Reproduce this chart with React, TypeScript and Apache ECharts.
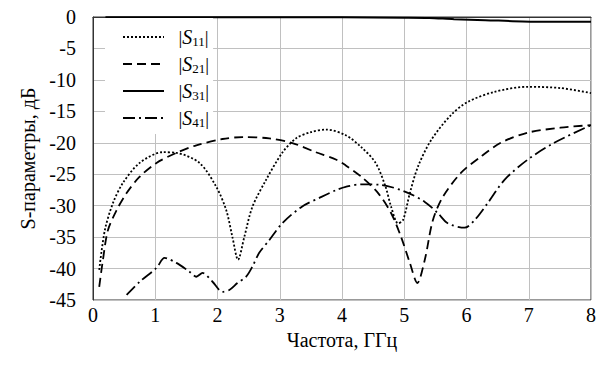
import React, { useEffect, useRef } from "react";
import * as echarts from "echarts";

const xTicks = [0, 1, 2, 3, 4, 5, 6, 7, 8];
const yTicks = [0, -5, -10, -15, -20, -25, -30, -35, -40, -45];

const s11Freq = [0.1, 0.19, 0.32, 0.48, 0.75, 1.12, 1.34, 1.71, 1.98, 2.14, 2.24, 2.33, 2.43, 2.56, 2.78, 3.04, 3.26, 3.5, 3.75, 4.06, 4.31, 4.54, 4.7, 4.79, 4.9, 4.98, 5.09, 5.22, 5.43, 5.75, 6.02, 6.45, 6.98, 7.51, 8.0];
const s11Db = [-40.2, -33.9, -29.6, -26.4, -23.2, -21.5, -21.6, -23.2, -27, -30.7, -35, -38.6, -35, -30.2, -25.9, -21.6, -19.3, -18.3, -17.9, -18.8, -20.7, -23.2, -27, -30.2, -32.8, -32.3, -28, -23.8, -19.6, -15.6, -13.5, -11.9, -11.1, -11.3, -12.1];

const s21Freq = [0.1, 0.16, 0.24, 0.38, 0.54, 0.75, 1.02, 1.34, 1.66, 2.08, 2.4, 2.83, 3.19, 3.58, 3.91, 4.06, 4.31, 4.58, 4.79, 4.95, 5.09, 5.21, 5.33, 5.46, 5.62, 5.91, 6.23, 6.55, 6.98, 7.51, 8.0];
const s21Db = [-42.9, -38.6, -33.9, -30.7, -28, -25.4, -23.2, -21.6, -20.4, -19.4, -19.1, -19.3, -20, -21.5, -22.7, -23.6, -25.4, -28, -31.2, -35, -39.1, -42.3, -38.6, -32.3, -28.6, -24.8, -22.2, -20, -18.4, -17.6, -17.2];

const s31Freq = [0.2, 1, 2, 3, 4, 5, 5.4, 5.8, 6.3, 6.9, 7.5, 8.0];
const s31Db = [-0.05, -0.05, -0.05, -0.05, -0.05, -0.1, -0.15, -0.35, -0.5, -0.7, -0.75, -0.75];

const s41Freq = [0.54, 0.75, 1.02, 1.15, 1.34, 1.55, 1.66, 1.76, 1.92, 2.08, 2.19, 2.32, 2.46, 2.56, 2.67, 2.83, 3.04, 3.35, 3.67, 3.91, 4.06, 4.31, 4.63, 5.02, 5.33, 5.54, 5.7, 5.97, 6.13, 6.34, 6.61, 6.98, 7.41, 8.0];
const s41Db = [-44.2, -42.1, -39.9, -38.3, -39.1, -40.5, -41.3, -40.7, -42.1, -43.7, -43.4, -42.3, -41.3, -39.7, -37.5, -35.5, -32.8, -30.2, -28.6, -27.5, -27, -26.6, -26.7, -27.8, -29.4, -31.2, -32.8, -33.5, -32.3, -29.6, -25.9, -22.7, -20, -17.2];

const seriesNames = ["S11", "S21", "S31", "S41"];

const pairs = (xs: number[], ys: number[]) => xs.map((x, i) => [x, ys[i]]);

const FONT = "serif";

export default function App() {
  const ref = useRef<HTMLDivElement>(null);
  useEffect(() => {
    if (!ref.current) return;
    const chart = echarts.init(ref.current, undefined, { renderer: "svg" });
    const dashes: any[] = [[2, 2], [9, 5], "solid", [12, 4, 2, 4]];
    const datasets = [pairs(s11Freq, s11Db), pairs(s21Freq, s21Db), pairs(s31Freq, s31Db), pairs(s41Freq, s41Db)];
    chart.setOption({
      animation: false,
      backgroundColor: "#fff",
      textStyle: { fontFamily: FONT, fontSize: 20, color: "#000" },
      grid: { left: 93, right: 5, top: 17, bottom: 67, show: true, borderColor: "#333", borderWidth: 1, containLabel: false },
      legend: {
        show: true,
        orient: "vertical",
        left: 105,
        top: 18,
        padding: [9, 4, 5, 17],
        backgroundColor: "#fff",
        itemWidth: 41,
        itemHeight: 14,
        itemGap: 6,
        itemStyle: { opacity: 0 },
        data: seriesNames,
        formatter: (name: string) => `  |{s|S}{sub|${name.slice(1)}}|`,
        textStyle: {
          fontFamily: FONT,
          fontSize: 19,
          color: "#000",
          lineHeight: 20,
          rich: {
            s: { fontFamily: FONT, fontStyle: "italic", fontSize: 20, color: "#000" },
            sub: { fontFamily: FONT, fontSize: 13, color: "#000", padding: [9, 0, 0, 0] },
          },
        },
      },
      xAxis: {
        type: "value",
        min: xTicks[0],
        max: xTicks[xTicks.length - 1],
        interval: 1,
        name: "Частота, ГГц",
        nameLocation: "middle",
        nameGap: 27,
        nameTextStyle: { fontFamily: FONT, fontSize: 20, color: "#000" },
        axisLine: { show: true, lineStyle: { color: "#333" } },
        axisTick: { show: false },
        axisLabel: { show: true, fontFamily: FONT, fontSize: 20, color: "#000", margin: 5 },
        splitLine: { show: true, lineStyle: { color: "#c0c0c0", width: 1 } },
      },
      yAxis: {
        type: "value",
        min: yTicks[yTicks.length - 1],
        max: yTicks[0],
        interval: 5,
        name: "S-параметры, дБ",
        nameLocation: "middle",
        nameGap: 50,
        nameTextStyle: { fontFamily: FONT, fontSize: 20, color: "#000" },
        axisLine: { show: true, lineStyle: { color: "#333" } },
        axisTick: { show: false },
        axisLabel: { show: true, fontFamily: FONT, fontSize: 20, color: "#000", margin: 17 },
        splitLine: { show: true, lineStyle: { color: "#c0c0c0", width: 1 } },
      },
      series: seriesNames.map((n, i) => ({
        name: n,
        type: "line",
        data: datasets[i],
        showSymbol: false,
        symbol: "none",
        smooth: 0.3,
        lineStyle: { color: "#000", width: i === 2 ? 2 : 1.8, type: dashes[i] },
        itemStyle: { color: "#000" },
      })),
    });
    return () => chart.dispose();
  }, []);
  return <div ref={ref} style={{ width: 599, height: 367, position: "absolute", left: 0, top: 0 }} />;
}
